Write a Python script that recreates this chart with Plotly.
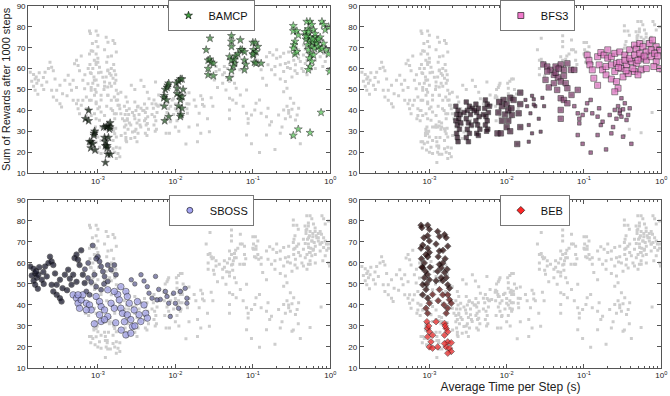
import numpy as np
import plotly.graph_objects as go

# ---- data: average time per step (s) vs. sum of rewards after 1000 steps ----
# points are listed group by group (one group per parameter setting)

bamcp_x = [7.6e-4, 6.9e-4, 7.6e-4, 8.9e-4, 8.9e-4, 9.1e-4, 7.8e-4, 8.2e-4, 8.6e-4, 8.1e-4, 9.2e-4,
           1.19e-3, 1.28e-3, 1.34e-3, 1.44e-3, 1.44e-3, 1.22e-3, 1.37e-3, 1.25e-3, 1.25e-3, 1.32e-3,
           1.34e-3, 1.45e-3, 1.25e-3, 1.32e-3, 1.41e-3,
           7.2e-3, 7.1e-3, 7.2e-3, 7.4e-3, 7.8e-3, 8.0e-3, 8.2e-3, 7.7e-3, 7.3e-3, 8.2e-3,
           1.03e-2, 1.1e-2, 1.16e-2, 1.22e-2, 1.05e-2, 1.14e-2, 1.16e-2, 1.22e-2, 1.1e-2, 1.22e-2,
           1.18e-2, 1.16e-2, 1.05e-2, 1.26e-2,
           0.025, 0.028, 0.0265, 0.028, 0.029, 0.031, 0.0265, 0.0265, 0.031,
           0.053, 0.053, 0.053, 0.05, 0.053, 0.058, 0.056, 0.053, 0.05, 0.058, 0.06,
           0.064, 0.069, 0.069, 0.073, 0.078, 0.078, 0.081, 0.078,
           0.1, 0.108, 0.102, 0.11, 0.116, 0.102, 0.105, 0.11, 0.128, 0.1,
           0.333, 0.333, 0.37, 0.35, 0.34, 0.333, 0.35, 0.37, 0.386,
           0.497, 0.548, 0.577, 0.521, 0.606, 0.472, 0.497, 0.548, 0.637, 0.486,
           0.537, 0.594, 0.657, 0.508, 0.577, 0.62, 0.521, 0.56, 0.606, 0.537,
           0.577, 0.548, 0.521, 0.594, 0.67, 0.70, 0.74, 0.637, 0.486, 0.521,
           0.78, 0.82, 0.86, 0.95, 0.74, 0.82, 0.89, 0.78, 0.95, 0.98, 0.76, 0.70,
           0.333, 0.386, 0.548]
bamcp_y = [40, 36, 35, 29, 28, 30, 25, 25, 24, 22, 21,
           32, 32, 32.5, 34, 32, 27, 27, 25, 23, 22, 19, 19, 15, 23, 31,
           47, 46, 42, 50, 51, 52, 53, 45, 35, 37,
           53, 54, 55, 55, 48, 47, 45, 46.5, 42, 41, 38, 37, 50.6, 50,
           69, 74.5, 64, 64.5, 63, 62.5, 60, 57, 56.5,
           75.7, 73, 70.5, 65.7, 64, 62.5, 61, 59, 55.6, 64.5, 66,
           67, 73.7, 69, 69, 68, 64, 62, 59.4,
           72.5, 72.5, 69, 68, 70.5, 66.5, 63, 62.5, 62.5, 67,
           80.5, 78, 78, 73, 71.3, 69.7, 67, 68, 76,
           82.5, 82.5, 81, 79, 78.5, 77.6, 76, 75, 75, 74,
           73, 72.5, 73, 71.3, 70.5, 69.7, 69, 67, 66.5, 65,
           63.4, 61, 59.4, 74, 72, 70.5, 69, 76.7, 75.4, 77.6,
           82.5, 81, 78.5, 80, 75, 72, 69, 69.7, 67, 58.6, 39, 74,
           28, 31, 29.3]
bamcp_groups = [26, 24, 38, 54]

bfs3_x = [2.2e-3, 2.35e-3, 2.25e-3, 2.4e-3, 2.2e-3, 2.3e-3, 2.45e-3, 2.25e-3, 2.3e-3, 2.35e-3, 2.5e-3, 2.55e-3,
          3.0e-3, 3.3e-3, 3.1e-3, 3.4e-3, 3.0e-3, 3.2e-3, 3.5e-3, 3.1e-3, 3.3e-3, 3.0e-3, 3.2e-3, 2.8e-3, 3.6e-3,
          4.0e-3, 4.3e-3, 4.1e-3, 4.4e-3, 4.0e-3, 4.2e-3, 4.5e-3, 4.1e-3, 4.3e-3, 3.8e-3,
          5.3e-3, 5.6e-3, 5.2e-3, 5.8e-3, 5.4e-3, 5.6e-3, 5.3e-3, 5.7e-3, 5.5e-3, 6.0e-3, 5.0e-3,
          7.8e-3, 8.7e-3, 9.1e-3, 1.0e-2, 1.05e-2, 1.11e-2, 1.17e-2, 1.23e-2, 8.7e-3, 1.0e-2, 1.11e-2,
          7.6e-3, 8.4e-3, 1.5e-2, 1.5e-2, 1.43e-2, 1.37e-2, 1.5e-2, 9.5e-3, 1.15e-2, 8.0e-3, 1.05e-2,
          0.0175, 0.0184, 0.0203, 0.0213, 0.0224, 0.0235, 0.0193, 0.0213, 0.0193, 0.0275, 0.0305, 0.0224,
          0.026, 0.029,
          0.0298, 0.0335, 0.0369, 0.0429, 0.05, 0.061, 0.068, 0.055, 0.0408, 0.046, 0.055, 0.05, 0.058,
          0.0408, 0.035, 0.0318, 0.061, 0.075, 0.083, 0.05, 0.055, 0.061, 0.05, 0.05, 0.069, 0.045,
          0.0335, 0.043, 0.047,
          0.075, 0.083, 0.087, 0.096, 0.106, 0.11, 0.122, 0.128, 0.15, 0.157, 0.165, 0.174, 0.083, 0.096,
          0.122, 0.15, 0.193, 0.226, 0.238, 0.215, 0.25, 0.276, 0.305, 0.29, 0.337, 0.373, 0.39, 0.355,
          0.41, 0.32, 0.087, 0.263, 0.305, 0.29, 0.32,
          0.11, 0.116, 0.119, 0.128, 0.15, 0.165, 0.182, 0.203, 0.226, 0.25, 0.29, 0.337, 0.39, 0.45,
          0.475, 0.525, 0.58, 0.64, 0.70, 0.77, 0.86, 0.95,
          0.157, 0.174, 0.193, 0.226, 0.263, 0.305, 0.355, 0.41, 0.475, 0.55, 0.64, 0.74, 0.86, 0.95,
          0.193, 0.226, 0.263, 0.276, 0.32, 0.373, 0.45, 0.55, 0.64,
          0.134, 0.15, 0.25, 0.29, 0.337, 0.39, 0.45, 0.525, 0.74, 0.82, 0.203, 0.43, 0.5, 0.25,
          0.6, 0.5, 0.8, 0.9, 0.35, 0.28]
bfs3_y = [42, 40, 38, 36, 35, 33, 31, 29, 27, 25, 38, 34,
          44, 42, 40, 38, 36, 34, 33, 31, 29, 27, 25, 39, 41,
          43, 41, 39, 37, 35, 33, 31, 29, 28, 40,
          45, 43, 41, 39, 37, 35, 33, 31, 30, 42, 38,
          39, 42, 45, 43, 40, 46, 37.8, 45, 35, 32, 30,
          29, 29, 48.5, 43, 38.6, 23.9, 32, 38, 41, 44, 35,
          45, 42, 38.6, 47, 45.3, 42, 33, 29, 25, 29.8, 42, 42.8,
          36, 46,
          62, 61, 59.4, 61, 62, 62.5, 59.4, 59.4, 57, 55.8, 56.5, 53.8, 53,
          53, 51, 54.6, 50.6, 59.4, 49.8, 45.8, 45, 43.4, 40.2, 36, 47.4, 49.8,
          58.6, 58, 60,
          42, 38.6, 36, 37.8, 40.2, 43.4, 45, 38.6, 37, 41, 33, 34.6, 28.2, 24,
          19.8, 28.2, 21.3, 29, 32, 37.8, 40.2, 42, 45.8, 38.6, 43.4, 37.8, 41, 35.4,
          24, 27.4, 33.8, 36, 37, 40, 40.5,
          66.5, 64, 61.8, 59.4, 65.7, 67.7, 66.5, 65, 65.7, 67.3, 68, 66.5, 69, 71.3,
          69.3, 72, 70.5, 68, 72, 73.7, 70.5, 69,
          61.8, 59.4, 61, 61.8, 62.5, 60, 61.8, 63.4, 62.5, 65, 64, 65.7, 63.4, 60,
          57, 55, 53.8, 50.6, 56, 57.6, 58.6, 59.4, 60,
          55.4, 52, 58.6, 63, 64, 65, 66.5, 67.3, 69, 67.3, 69, 60, 57, 48.9,
          66, 64, 61, 66, 59, 60.5]
bfs3_groups = [46, 22, 14, 29, 35, 65]

sboss_x = [1.34e-4, 1.48e-4, 1.55e-4, 1.63e-4, 1.71e-4, 1.48e-4, 1.55e-4, 1.68e-4, 1.89e-4, 2.08e-4,
           2.3e-4, 2.41e-4, 2.53e-4, 2.66e-4, 1.98e-4, 2.19e-4, 2.53e-4, 2.66e-4, 2.94e-4, 3.24e-4,
           3.4e-4, 3.75e-4, 4.14e-4, 4.35e-4, 4.8e-4, 5.0e-4, 5.3e-4, 5.55e-4, 5.8e-4, 6.1e-4,
           4.57e-4, 5.3e-4, 6.4e-4, 6.75e-4, 3.24e-4, 2.94e-4, 1.4e-4, 1.6e-4, 2.0e-4, 2.8e-4,
           3.5e-4, 4.0e-4, 1.75e-4,
           7.45e-4, 8.2e-4, 9.0e-4, 8.6e-4, 1.0e-3, 1.05e-3, 1.1e-3, 1.16e-3, 1.22e-3, 1.34e-3,
           1.48e-3, 1.63e-3, 1.34e-3, 7.1e-4, 7.8e-4, 9.5e-4, 1.1e-3, 1.71e-3, 9.5e-4, 1.2e-3,
           6.8e-4, 7.5e-4,
           4.8e-4, 5.3e-4, 5.55e-4, 5.8e-4, 6.1e-4, 7.1e-4, 7.8e-4, 8.2e-4, 9.5e-4, 1.05e-3,
           1.1e-3, 1.05e-3, 1.1e-3, 1.22e-3, 1.34e-3, 1.48e-3, 1.63e-3, 1.8e-3, 1.89e-3, 1.98e-3,
           2.08e-3, 2.3e-3, 2.4e-3, 2.54e-3, 2.4e-3, 2.66e-3, 2.8e-3, 2.3e-3, 2.66e-3, 2.94e-3,
           3.24e-3, 3.4e-3, 3.58e-3, 3.94e-3, 4.14e-3, 4.35e-3, 1.22e-3, 1.34e-3, 1.63e-3, 1.98e-3,
           7.1e-4, 6.4e-4, 5.55e-4, 9.0e-4, 1.7e-3, 2.0e-3, 3.0e-3, 2.2e-3,
           3.94e-3, 4.35e-3, 4.57e-3, 5.55e-3, 5.0e-3, 6.1e-3, 6.4e-3, 7.45e-3, 7.8e-3, 8.2e-3,
           8.6e-3, 9.5e-3, 1.0e-2, 1.1e-2, 1.16e-2, 1.34e-2, 1.41e-2, 1.41e-2, 3.6e-3, 5.8e-3,
           3.0e-3, 2.7e-3]
sboss_y = [58.3, 57.2, 55, 53, 54.4, 51.5, 49.6, 47.7, 52, 58.3,
           60, 63, 60.7, 59, 55.7, 53.6, 49.6, 46.4, 44.8, 43.2,
           41.6, 54.4, 56.8, 52.5, 54.4, 62.3, 64, 61.5, 59, 66,
           49.6, 51, 54.4, 50.4, 52, 49.6, 54, 56, 50, 55,
           48, 47, 58,
           52.8, 50.9, 54.4, 68.3, 63, 60.7, 58.3, 55.9, 53.6, 59,
           56.8, 59, 51.2, 46.4, 44.8, 48.7, 47.2, 54.4, 62, 50,
           57, 60,
           44.8, 43.2, 40.8, 38.4, 42.4, 40.8, 40, 37.6, 44, 41.6,
           39.2, 35.3, 32.1, 37.6, 34.5, 40.8, 38.4, 45, 42.4, 38.4,
           36, 46.4, 44, 40.8, 35.3, 33, 29.7, 25.7, 26.5, 37.6,
           41.6, 35.3, 32.1, 40, 36, 33.7, 33, 47.2, 46.4, 48.7,
           37.6, 44.8, 44.8, 31, 31.5, 28, 30, 32,
           51.4, 48.7, 45.6, 53.6, 43.2, 47.4, 42.6, 46.4, 44, 40.8,
           34.5, 45.6, 40.8, 38.4, 46.4, 47.9, 43.2, 40.8, 54.4, 42.4,
           50, 52]
sboss_groups = [43, 22, 48, 22]

beb_x = [7.8e-4, 8.0e-4, 7.8e-4, 8.2e-4, 9.5e-4, 1e-3, 9.5e-4, 1e-3, 9.5e-4, 1e-3,
         9.5e-4, 8.6e-4, 8.2e-4, 8.9e-4, 9.5e-4, 8.6e-4, 1e-3, 8.2e-4, 9.05e-4, 8.2e-4,
         9.5e-4, 8.0e-4, 9.0e-4, 8.5e-4, 9.2e-4, 1.02e-3, 7.9e-4,
         1.28e-3, 1.35e-3, 1.57e-3, 1.65e-3, 1.73e-3, 1.22e-3, 1.35e-3, 1.35e-3, 1.42e-3, 1.49e-3,
         1.57e-3, 1.65e-3, 1.49e-3, 1.73e-3, 1.42e-3, 1.22e-3, 1.28e-3, 1.82e-3, 1.6e-3, 1.5e-3,
         1.7e-3, 1.3e-3,
         1e-3, 9.05e-4, 9.5e-4, 1.35e-3, 1.49e-3, 1.73e-3, 1.82e-3, 1.92e-3, 1.73e-3, 1.65e-3,
         1.1e-3, 1.3e-3, 1.55e-3,
         9.3e-4, 9.5e-4, 1e-3, 9.5e-4, 1.05e-3, 1e-3, 1.1e-3, 1.1e-3, 1.28e-3, 1.22e-3,
         1.57e-3, 1.65e-3, 1.73e-3, 1.57e-3, 1.73e-3, 1.65e-3, 1.82e-3, 1.92e-3, 1.73e-3, 1.57e-3,
         1.92e-3, 1.6e-3, 9.8e-4]
beb_y = [78, 76.8, 67, 68.5, 78, 76, 73, 70.5, 67, 65,
         63, 60, 57.7, 56, 54.5, 53, 52, 49.6, 47.3, 44.8,
         43.2, 58, 64, 72, 50, 58, 62,
         75, 72.6, 73.5, 72, 68, 69, 65.7, 59.3, 57.7, 60,
         55.4, 53, 51.5, 49.6, 53, 51.5, 56, 48, 62, 66,
         57, 63,
         40.8, 38.4, 36, 47.3, 44.8, 44.8, 42.5, 40.8, 38.4, 36,
         45, 42, 40,
         32, 28.8, 27.2, 24.8, 22.4, 20, 19.4, 25.6, 20, 32,
         31.2, 28.8, 27.2, 25.6, 22.4, 20, 19.4, 17.8, 17, 21.6,
         22, 30, 30]
beb_groups = [49, 13, 23]

x_tickvals = [1e-3, 1e-2, 1e-1, 1]
x_ticktext = ['10<sup>-3</sup>', '10<sup>-2</sup>', '10<sup>-1</sup>', '10<sup>0</sup>']

# ---- styling ----
panels = [
    dict(name='BAMCP', x=bamcp_x, y=bamcp_y, groups=bamcp_groups, symbol='star',
         dark='#0e1a0e', light='#66dd66', key='#3f9f3f',
         shades=[0.05, 0.35, 0.6, 0.95], sizes=[6, 6, 6, 6]),
    dict(name='BFS3', x=bfs3_x, y=bfs3_y, groups=bfs3_groups, symbol='square',
         dark='#26101f', light='#f57fd4', key='#f07acb',
         shades=[0.05, 0.15, 0.3, 0.45, 0.55, 0.92], sizes=[4.5, 5.5, 3.2, 5.5, 3.6, 6]),
    dict(name='SBOSS', x=sboss_x, y=sboss_y, groups=sboss_groups, symbol='circle',
         dark='#141426', light='#a9a9f6', key='#a4a4f2',
         shades=[0.05, 0.35, 0.95, 0.6], sizes=[5.5, 5, 6.5, 4.5]),
    dict(name='BEB', x=beb_x, y=beb_y, groups=beb_groups, symbol='diamond',
         dark='#1c0505', light='#ff2a2a', key='#ff2525',
         shades=[0.05, 0.3, 0.95], sizes=[5, 5, 5]),
]

all_x = bamcp_x + bfs3_x + sboss_x + beb_x
all_y = bamcp_y + bfs3_y + sboss_y + beb_y

dom_x = [[0.042, 0.493], [0.537, 0.987], [0.042, 0.493], [0.537, 0.987]]
dom_y = [[0.563, 0.985], [0.563, 0.985], [0.071, 0.495], [0.071, 0.495]]
leg_pos = [(0.25, 1.0), (0.746, 1.0), (0.252, 0.508), (0.746, 0.508)]

font = 'Liberation Sans, Arial, sans-serif'
traces = []
layout = dict(
    width=670, height=396,
    margin=dict(l=0, r=0, t=0, b=0),
    paper_bgcolor='white', plot_bgcolor='white',
    font=dict(family=font, size=8, color='#222'),
    showlegend=True,
)

for i, p in enumerate(panels):
    n = i + 1
    xa = 'x' if n == 1 else f'x{n}'
    ya = 'y' if n == 1 else f'y{n}'
    leg = 'legend' if n == 1 else f'legend{n}'
    assert len(p['x']) == len(p['y']) == sum(p['groups']), p['name']

    # every method's runs in grey behind the highlighted one
    traces.append(go.Scatter(
        x=all_x, y=all_y, mode='markers', xaxis=xa, yaxis=ya,
        marker=dict(symbol='square', size=3, color='#cdcdcd', line=dict(width=0)),
        showlegend=False, hoverinfo='skip',
    ))
    traces.append(go.Scatter(
        x=p['x'], y=p['y'], mode='markers', xaxis=xa, yaxis=ya, name=p['name'],
        marker=dict(symbol=p['symbol'],
                    size=np.repeat(p['sizes'], p['groups']),
                    color=np.repeat(p['shades'], p['groups']),
                    colorscale=[[0, p['dark']], [1, p['light']]], cmin=0, cmax=1,
                    line=dict(color='black', width=0.6)),
        showlegend=False,
    ))
    # legend key only
    traces.append(go.Scatter(
        x=[None], y=[None], mode='markers', xaxis=xa, yaxis=ya, name=p['name'],
        marker=dict(symbol=p['symbol'], size=6, color=p['key'],
                    line=dict(color='black', width=0.6)),
        legend=leg,
    ))

    axis_common = dict(showline=True, linecolor='#555', linewidth=1, mirror='allticks',
                       ticks='inside', ticklen=4, tickcolor='#555', showgrid=False,
                       zeroline=False, tickfont=dict(size=8), automargin=False)
    layout['xaxis' if n == 1 else f'xaxis{n}'] = dict(
        axis_common, type='log', range=[-3.9, 0],
        tickvals=x_tickvals, ticktext=x_ticktext,
        domain=dom_x[i], anchor=ya,
        minor=dict(ticks='inside', ticklen=2, tickcolor='#555', showgrid=False, dtick='D1'),
    )
    layout['yaxis' if n == 1 else f'yaxis{n}'] = dict(
        axis_common, range=[10, 90], dtick=10, domain=dom_y[i], anchor=xa,
    )
    layout[leg] = dict(x=leg_pos[i][0], y=leg_pos[i][1], xanchor='left', yanchor='top',
                       bgcolor='white', bordercolor='#777', borderwidth=1,
                       font=dict(size=11, family=font, color='#111'), itemwidth=30,
                       tracegroupgap=0)

layout['yaxis']['title'] = dict(text='Sum of Rewards after 1000 steps',
                                font=dict(size=11, family=font), standoff=4)
layout['xaxis4']['title'] = dict(text='Average Time per Step (s)',
                                 font=dict(size=12, family=font), standoff=2)

fig = go.Figure(traces, layout=go.Layout(**layout))
fig.write_html('out.html', config={'displayModeBar': False},
               post_script="document.body.style.margin='0';")
